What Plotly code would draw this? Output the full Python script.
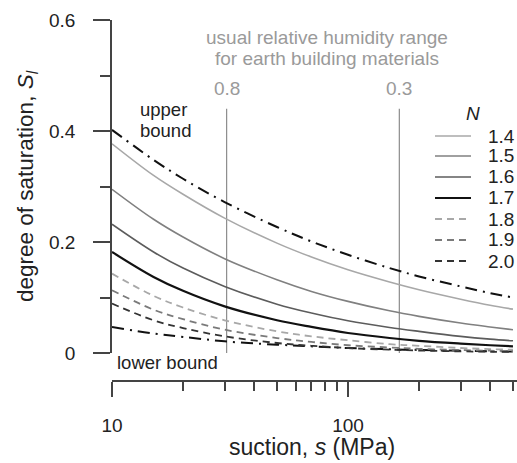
import math
import plotly.graph_objects as go

# ---------------- data ----------------
suction = [10, 15, 20, 30, 50, 70, 100, 150, 200, 300, 400, 500]   # MPa

N_labels = ["1.4", "1.5", "1.6", "1.7", "1.8", "1.9", "2.0"]
S_N14 = [0.377, 0.320, 0.286, 0.243, 0.198, 0.173, 0.150, 0.128, 0.114, 0.097, 0.086, 0.079]
S_N15 = [0.295, 0.241, 0.209, 0.170, 0.132, 0.111, 0.093, 0.076, 0.066, 0.054, 0.047, 0.042]
S_N16 = [0.232, 0.182, 0.153, 0.120, 0.088, 0.072, 0.058, 0.046, 0.039, 0.030, 0.025, 0.022]
S_N17 = [0.182, 0.137, 0.112, 0.084, 0.059, 0.047, 0.036, 0.027, 0.022, 0.017, 0.014, 0.012]
S_N18 = [0.143, 0.103, 0.082, 0.059, 0.039, 0.030, 0.023, 0.016, 0.013, 0.009, 0.007, 0.006]
S_N19 = [0.113, 0.078, 0.061, 0.042, 0.027, 0.020, 0.014, 0.010, 0.0076, 0.0053, 0.0041, 0.0034]
S_N20 = [0.089, 0.059, 0.045, 0.030, 0.018, 0.013, 0.009, 0.006, 0.0045, 0.003, 0.0022, 0.0018]
S_upper = [0.402, 0.348, 0.314, 0.272, 0.227, 0.201, 0.177, 0.153, 0.138, 0.120, 0.108, 0.100]
S_lower = [0.047, 0.035, 0.029, 0.021, 0.015, 0.012, 0.009, 0.0067, 0.0055, 0.004, 0.0033, 0.0028]

rh_labels = ["0.8", "0.3"]          # relative humidity
rh_suction = [30.6, 165.0]          # corresponding suction, MPa
rh_line_top = 0.44

y_ticks = [0, 0.2, 0.4, 0.6]
y_ticklabels = ["0", "0.2", "0.4", "0.6"]
y_minor = [0.1, 0.3, 0.5]
x_ticks = [10, 100]
x_ticklabels = ["10", "100"]
x_minor = [20, 30, 40, 50, 60, 70, 80, 90, 200, 300, 400, 500]

# ---------------- styling ----------------
FONT = "Liberation Sans, Arial, Helvetica, sans-serif"
W, H = 517, 463
ML, MR, MT, MB = 112, 0, 20, 82
PW, PH = W - ML - MR, H - MT - MB
Y0_PX = 353  # pixel row of y = 0

def px(xp):
    return (xp - ML) / PW

def py(yp):
    return (H - MB - yp) / PH

series = [
    (N_labels[0], S_N14, dict(color="#a8a8a8", width=1.6, dash="solid")),
    (N_labels[1], S_N15, dict(color="#808080", width=1.6, dash="solid")),
    (N_labels[2], S_N16, dict(color="#5c5c5c", width=1.6, dash="solid")),
    (N_labels[3], S_N17, dict(color="#111111", width=2.2, dash="solid")),
    (N_labels[4], S_N18, dict(color="#a8a8a8", width=1.8, dash="7px,5px")),
    (N_labels[5], S_N19, dict(color="#7a7a7a", width=1.8, dash="7px,5px")),
    (N_labels[6], S_N20, dict(color="#333333", width=1.8, dash="7px,5px")),
]

fig = go.Figure()

# vertical RH lines
for lab, s in zip(rh_labels, rh_suction):
    fig.add_trace(go.Scatter(x=[s, s], y=[0, rh_line_top], mode="lines",
                             line=dict(color="#8c8c8c", width=1.2),
                             showlegend=False, hoverinfo="skip"))

# bounds
for name, vals in [("upper bound", S_upper), ("lower bound", S_lower)]:
    fig.add_trace(go.Scatter(x=suction, y=vals, mode="lines", name=name,
                             line=dict(color="#111111", width=2.0, dash="12px,6px,2px,6px", shape="spline"),
                             showlegend=False))

for name, vals, ln in series:
    fig.add_trace(go.Scatter(x=suction, y=vals, mode="lines", name="N = " + name,
                             line=dict(shape="spline", **ln), showlegend=False))

annotations = []
shapes = []

def txt(text, x, y, size=18, color="#222222", xanchor="center", xref="paper", yref="paper", **kw):
    annotations.append(dict(text=text, x=x, y=y, xref=xref, yref=yref, showarrow=False,
                            xanchor=xanchor, yanchor="middle",
                            font=dict(family=FONT, size=size, color=color), **kw))

# humidity range texts
txt("usual relative humidity range", px(327), py(38), size=19, color="#9a9a9a")
txt("for earth building materials", px(327), py(58), size=19, color="#9a9a9a")
for lab, s in zip(rh_labels, rh_suction):
    txt(lab, math.log10(s), 0.477, size=19, color="#9a9a9a", xref="x", yref="y")

# bound labels
txt("upper", px(138), py(110), size=18.5, xanchor="left")
txt("bound", px(138), py(130), size=18.5, xanchor="left")
txt("lower bound", px(115), py(362), size=18.5, xanchor="left")

# manual legend
txt("<i>N</i>", px(473), py(114), size=19)
leg_rows = [136, 156, 177, 198, 219, 240, 261]
for (name, vals, ln), yr in zip(series, leg_rows):
    shapes.append(dict(type="line", xref="paper", yref="paper",
                       x0=px(435), x1=px(471), y0=py(yr), y1=py(yr),
                       line=dict(color=ln["color"], width=ln["width"], dash=ln["dash"])))
    txt(name, px(486), py(yr), size=19, xanchor="left")

# axis titles
txt("suction, <i>s</i> (MPa)", px(312), py(447), size=23)
txt("degree of saturation, <i>S</i><sub><i>l</i></sub>", px(27), py(186), size=22.5, textangle=-90)

fig.update_layout(
    width=W, height=H,
    margin=dict(l=ML, r=MR, t=MT, b=MB, pad=0),
    paper_bgcolor="white", plot_bgcolor="white",
    font=dict(family=FONT, size=18, color="#222222"),
    showlegend=False,
    annotations=annotations, shapes=shapes,
    xaxis=dict(type="log", range=[1, math.log10(10) + PW / 236.0],
               anchor="free", position=0,
               showline=True, linecolor="#444444", linewidth=1.5,
               showgrid=False, zeroline=False,
               tickmode="array", tickvals=x_ticks, ticktext=x_ticklabels,
               ticks="outside", ticklen=15, tickwidth=1.5, tickcolor="#444444",
               ticklabelstandoff=12,
               tickfont=dict(family=FONT, size=19, color="#222222"),
               minor=dict(tickmode="array", tickvals=x_minor, ticks="outside",
                          ticklen=9, tickwidth=1.5, tickcolor="#444444", showgrid=False)),
    yaxis=dict(range=[0, 0.6], domain=[py(Y0_PX), 1],
               anchor="x", showline=True, linecolor="#444444", linewidth=1.5,
               showgrid=False, zeroline=False,
               tickmode="array", tickvals=y_ticks, ticktext=y_ticklabels,
               ticks="outside", ticklen=17, tickwidth=1.5, tickcolor="#444444",
               ticklabelstandoff=14,
               tickfont=dict(family=FONT, size=19, color="#222222"),
               minor=dict(tickmode="array", tickvals=y_minor, ticks="outside",
                          ticklen=10, tickwidth=1.5, tickcolor="#444444", showgrid=False)),
)

fig.write_html("out.html", config={"displayModeBar": False},
               post_script="document.body.style.margin='0';document.body.style.padding='0';")
